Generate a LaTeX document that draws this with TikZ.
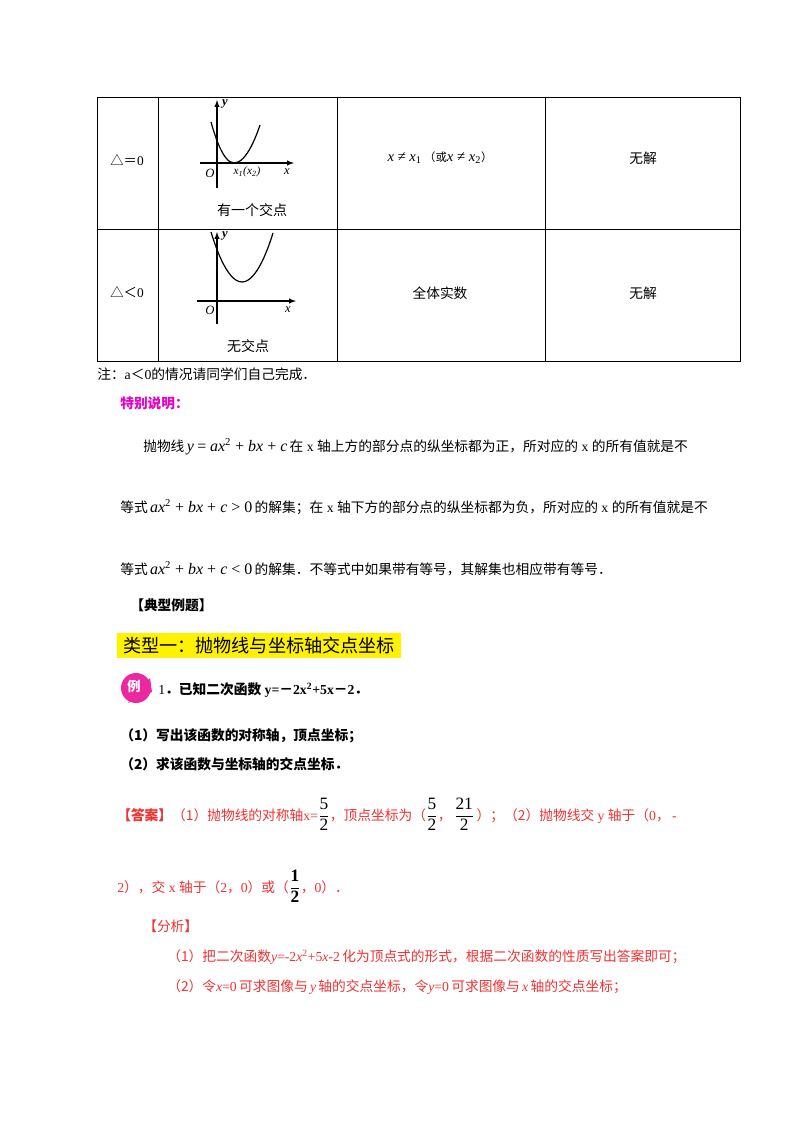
\documentclass[tikz,border=0pt]{standalone}
\usepackage{amsmath}
\usepackage{fontspec}
\setmainfont{Liberation Serif}
\newfontfamily\cjk{Noto Sans CJK SC}
\definecolor{mag}{RGB}{236,40,160}
\definecolor{tmag}{RGB}{230,0,200}
\definecolor{ans}{RGB}{240,50,50}
\newcommand{\ti}[1]{{\rmfamily\itshape #1}}
\newcommand{\tr}[1]{{\rmfamily #1}}
\newcommand{\fr}[2]{{\color{black}\fontsize{13pt}{13pt}\selectfont$\dfrac{\text{\rmfamily #1}}{\text{\rmfamily #2}}$}}
\begin{document}
\begin{tikzpicture}[x=0.75pt,y=-0.75pt,
  t/.style={anchor=base west,inner sep=0pt,font=\cjk\fontsize{10.3pt}{12pt}\selectfont},
  c/.style={anchor=center,inner sep=0pt,font=\fontsize{10pt}{12pt}\selectfont},
  ax/.style={-latex,line width=0.8pt},
  cv/.style={line width=0.9pt}]
\useasboundingbox (0,0) rectangle (800,1132);
\fill[white] (0,0) rectangle (800,1132);
% table
\draw[line width=0.7pt] (97,97) rectangle (740,361);
\draw[line width=0.7pt] (97,229)--(740,229);
\foreach \x in {158,337,545} \draw[line width=0.7pt] (\x,97)--(\x,361);
\node[c] (r1) at (127,160) {{\cjk △＝}0};
\node[c] (r2) at (127,292) {{\cjk △＜}0};
% graph 1
\draw[ax] (200,163)--(294,163);
\draw[ax] (217,188)--(217,100);
\draw[cv] (211,122) parabola bend (234,163) (260,125);
\node[c,font=\itshape\fontsize{9.5pt}{10pt}\selectfont] (o1) at (210,173) {O};
\node[c,font=\itshape\fontsize{8.5pt}{10pt}\selectfont] (xx) at (247,172) {x\textsubscript{1}(x\textsubscript{2})};
\node[c,font=\itshape\fontsize{9.5pt}{10pt}\selectfont] (x1) at (287,172) {x};
\node[c,font=\itshape\bfseries\fontsize{9.5pt}{10pt}\selectfont] (y1) at (225,104) {y};
\node[c,font=\cjk\fontsize{10.5pt}{12pt}\selectfont] (l1) at (252,210) {有一个交点};
% graph 2
\draw[ax] (197,301)--(296,301);
\draw[ax] (217,324)--(217,232);
\draw[cv] (211,232) parabola bend (242,282) (273,233);
\node[c,font=\itshape\fontsize{9.5pt}{10pt}\selectfont] (o2) at (210,310) {O};
\node[c,font=\itshape\fontsize{9.5pt}{10pt}\selectfont] (x2) at (288,310) {x};
\node[c,font=\itshape\bfseries\fontsize{9.5pt}{10pt}\selectfont] (y2) at (225,236) {y};
\node[c,font=\cjk\fontsize{10.5pt}{12pt}\selectfont] (l2) at (248,346) {无交点};
% col3,4
\node[c,font=\fontsize{11pt}{12pt}\selectfont] (c31) at (440,158) {\ti{x} ≠ \ti{x}\textsubscript{1}\,{\cjk\fontsize{8.5pt}{10pt}\selectfont（或}\ti{x} ≠ \ti{x}\textsubscript{2}{\cjk\fontsize{8.5pt}{10pt}\selectfont ）}};
\node[c,font=\cjk\fontsize{10.3pt}{12pt}\selectfont] (c32) at (440,293) {全体实数};
\node[c,font=\cjk\fontsize{10.3pt}{12pt}\selectfont] (c41) at (643,158) {无解};
\node[c,font=\cjk\fontsize{10.3pt}{12pt}\selectfont] (c42) at (643,293) {无解};
% notes
\node[t] (n1) at (97,379) {注：\tr{a}＜\tr{0}的情况请同学们自己完成．};
\node[t,font=\cjk\bfseries\fontsize{10.3pt}{12pt}\selectfont,text=tmag] (n2) at (120,408) {特别说明：};
\node[t] (p1) at (143,451) {抛物线\,{\fontsize{12pt}{12pt}\selectfont\ti{y} \tr{=} \ti{ax}\tr{\textsuperscript{2} + }\ti{bx}\tr{ + }\ti{c}}\,在\tr{ x }轴上方的部分点的纵坐标都为正，所对应的\tr{ x }的所有值就是不};
\node[t] (p2) at (120,512) {等式\,{\fontsize{12pt}{12pt}\selectfont\ti{ax}\tr{\textsuperscript{2} + }\ti{bx}\tr{ + }\ti{c}\tr{ > 0}}\,的解集；在\tr{ x }轴下方的部分点的纵坐标都为负，所对应的\tr{ x }的所有值就是不};
\node[t] (p3) at (120,574) {等式\,{\fontsize{12pt}{12pt}\selectfont\ti{ax}\tr{\textsuperscript{2} + }\ti{bx}\tr{ + }\ti{c}\tr{ < 0}}\,的解集．不等式中如果带有等号，其解集也相应带有等号．};
\node[t,font=\cjk\bfseries\fontsize{10.3pt}{12pt}\selectfont] (h) at (130,610) {【典型例题】};
% yellow title
\fill[yellow] (117,633) rectangle (401,658);
\node[c,font=\cjk\fontsize{13.6pt}{16pt}\selectfont] (tt) at (259,646) {类型一：抛物线与坐标轴交点坐标};
% example icon
\fill[mag] (136,688) circle (15);
\fill[mag] (128,703) -- (152,692) -- (150,678) -- cycle;
\node[c,font=\cjk\bfseries\fontsize{10pt}{12pt}\selectfont,text=white] (li) at (134,686) {例};
\node[t,font=\cjk\bfseries\fontsize{10.3pt}{12pt}\selectfont] (q) at (158,694) {\tr{\mdseries 1}．已知二次函数\tr{ y=}－\tr{2x\textsuperscript{2}+5x}－\tr{2}．};
\node[t,font=\cjk\bfseries\fontsize{10.3pt}{12pt}\selectfont] (q1) at (120,740) {（1）写出该函数的对称轴，顶点坐标；};
\node[t,font=\cjk\bfseries\fontsize{10.3pt}{12pt}\selectfont] (q2) at (120,769) {（2）求该函数与坐标轴的交点坐标．};
% answer
\node[t,text=ans] (a1) at (117,820) {{\bfseries【答案】}（1）抛物线的对称轴\tr{x=}\fr{5}{2}，顶点坐标为（\fr{5}{2}，\,\fr{21}{2}\,）；（2）抛物线交\tr{ y }轴于（\tr{0}，\,\tr{-}};
\node[t,text=ans] (a2) at (117,892) {\tr{2}），交\tr{ x }轴于（\tr{2}，\tr{0}）或（\fr{\bfseries 1}{\bfseries 2}，\tr{0}）．};
\node[t,text=ans] (f) at (143,931) {【分析】};
\node[t,text=ans] (f1) at (167,961) {（1）把二次函数\ti{y}\tr{=-2\textit{x}\textsuperscript{2}+5\textit{x}-2}\,化为顶点式的形式，根据二次函数的性质写出答案即可；};
\node[t,text=ans] (f2) at (167,991) {（2）令\ti{x}\tr{=0}\,可求图像与\,\ti{y}\,轴的交点坐标，令\ti{y}\tr{=0}\,可求图像与\,\ti{x}\,轴的交点坐标；};
\end{tikzpicture}
\end{document}
